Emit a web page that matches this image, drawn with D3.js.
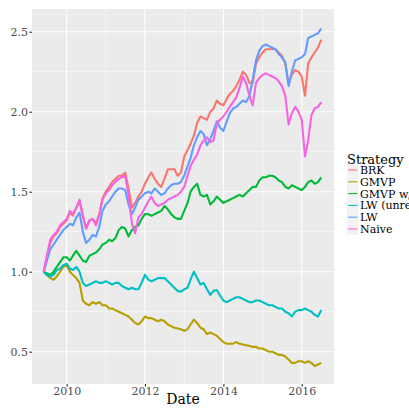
<!DOCTYPE html>
<html>
<head>
<meta charset="utf-8">
<script src="https://cdn.jsdelivr.net/npm/d3@7"></script>
<style>
  html, body { margin: 0; padding: 0; background: #ffffff; }
  svg { display: block; font-family: "DejaVu Serif", serif; }
</style>
</head>
<body>
<svg id="chart" width="409" height="408"></svg>
<script>
'use strict';

// ── Data (monthly readings, Jun 2009 – Jul 2016) ──────────
const startMonth = new Date(2009, 5, 1);
const strategies = ['BRK', 'GMVP', 'GMVP w/o short', 'LW (unrestricted)', 'LW', 'Naive'];
const colors     = ['#F8766D', '#B79F00', '#00BA38', '#00BFC4', '#619CFF', '#F564E3'];

const brk = [1.00,1.09,1.18,1.22,1.24,1.28,1.30,1.32,1.37,1.35,1.40,1.44,1.35,1.27,1.32,1.33,1.30,1.36,1.46,1.50,
  1.53,1.56,1.58,1.60,1.60,1.62,1.52,1.40,1.43,1.47,1.50,1.55,1.59,1.62,1.58,1.55,1.53,1.58,1.64,1.64,
  1.64,1.60,1.62,1.72,1.76,1.80,1.85,1.93,1.97,1.96,1.95,2.00,2.02,2.07,2.05,2.04,2.08,2.11,2.13,2.16,
  2.20,2.25,2.23,2.18,2.18,2.30,2.34,2.37,2.39,2.39,2.39,2.39,2.37,2.35,2.30,2.18,2.23,2.26,2.25,2.22,
  2.10,2.30,2.34,2.37,2.40,2.45];
const gmvp = [1.00,0.98,0.96,0.95,0.97,1.00,1.03,1.04,1.00,0.98,0.96,0.93,0.82,0.80,0.79,0.81,0.80,0.81,0.79,0.79,
  0.77,0.77,0.76,0.75,0.74,0.73,0.72,0.70,0.68,0.67,0.69,0.72,0.71,0.71,0.70,0.69,0.70,0.69,0.67,0.66,
  0.65,0.645,0.64,0.63,0.64,0.67,0.70,0.68,0.65,0.64,0.61,0.62,0.61,0.60,0.58,0.56,0.55,0.55,0.55,0.56,
  0.55,0.545,0.54,0.535,0.53,0.53,0.52,0.52,0.51,0.50,0.50,0.49,0.48,0.48,0.47,0.45,0.43,0.43,0.44,0.44,
  0.43,0.44,0.43,0.41,0.42,0.43];
const gmvpW = [1.00,0.99,0.98,1.00,1.03,1.06,1.09,1.09,1.07,1.10,1.13,1.10,1.07,1.06,1.10,1.11,1.12,1.14,1.17,1.18,
  1.20,1.19,1.21,1.26,1.28,1.27,1.22,1.26,1.28,1.29,1.33,1.36,1.36,1.35,1.36,1.37,1.38,1.41,1.39,1.36,
  1.34,1.33,1.33,1.38,1.43,1.50,1.53,1.55,1.48,1.47,1.48,1.42,1.44,1.47,1.45,1.43,1.44,1.45,1.46,1.47,
  1.48,1.47,1.49,1.51,1.53,1.53,1.57,1.59,1.59,1.60,1.60,1.59,1.57,1.56,1.53,1.52,1.54,1.53,1.52,1.51,
  1.53,1.56,1.57,1.55,1.56,1.59];
const lwUnr = [1.00,0.98,0.97,0.98,1.01,1.02,1.04,1.05,1.02,1.01,1.03,1.00,0.93,0.91,0.92,0.93,0.94,0.93,0.93,0.94,
  0.93,0.92,0.93,0.93,0.91,0.90,0.89,0.90,0.89,0.89,0.93,0.98,0.95,0.94,0.95,0.96,0.96,0.96,0.94,0.92,
  0.90,0.88,0.875,0.89,0.90,0.95,1.00,0.96,0.92,0.93,0.89,0.855,0.88,0.885,0.85,0.82,0.81,0.82,0.83,0.84,
  0.84,0.83,0.82,0.81,0.81,0.82,0.82,0.81,0.80,0.79,0.79,0.78,0.77,0.77,0.75,0.74,0.72,0.75,0.76,0.76,
  0.77,0.76,0.75,0.73,0.72,0.76];
const lw = [1.00,1.07,1.14,1.17,1.20,1.23,1.26,1.28,1.30,1.29,1.34,1.37,1.25,1.18,1.20,1.23,1.22,1.28,1.38,1.42,
  1.44,1.47,1.50,1.52,1.52,1.51,1.42,1.36,1.40,1.45,1.47,1.49,1.50,1.49,1.52,1.50,1.48,1.49,1.52,1.54,
  1.55,1.55,1.56,1.60,1.66,1.71,1.79,1.84,1.88,1.86,1.79,1.83,1.88,1.94,1.90,1.88,1.94,1.99,2.02,2.03,
  2.05,2.07,2.06,2.10,2.20,2.32,2.38,2.41,2.42,2.41,2.40,2.39,2.36,2.34,2.31,2.16,2.25,2.32,2.33,2.34,
  2.36,2.46,2.47,2.48,2.49,2.52];
const naive = [1.00,1.10,1.20,1.23,1.25,1.29,1.31,1.33,1.38,1.36,1.40,1.45,1.35,1.27,1.32,1.33,1.29,1.35,1.45,1.49,
  1.51,1.54,1.56,1.58,1.59,1.60,1.48,1.30,1.24,1.34,1.36,1.40,1.44,1.47,1.43,1.41,1.42,1.43,1.45,1.46,
  1.47,1.48,1.50,1.53,1.60,1.66,1.70,1.73,1.79,1.82,1.84,1.81,1.82,1.93,1.95,1.97,2.00,2.03,2.06,2.09,
  2.15,2.22,2.18,2.10,2.04,2.18,2.21,2.23,2.24,2.23,2.22,2.21,2.19,2.16,2.10,1.92,1.99,2.03,2.00,1.95,
  1.72,1.82,1.98,2.02,2.03,2.06];

const seriesValues = [brk, gmvp, gmvpW, lwUnr, lw, naive];

const yMajor = [0.5, 1.0, 1.5, 2.0, 2.5];
const yMinor = [0.75, 1.25, 1.75, 2.25];
const xMajorYears = [2010, 2012, 2014, 2016];
const xMinorYears = [2011, 2013, 2015];

// ── Layout ────────────────────────────────────────────────
const panel = { left: 32, right: 334, top: 9, bottom: 384 };

const svg = d3.select('#chart');

const x = d3.scaleTime()
  .domain([new Date(2009, 1, 12), new Date(2016, 9, 28)])
  .range([panel.left, panel.right]);
const y = d3.scaleLinear()
  .domain([0.298, 2.642])
  .range([panel.bottom, panel.top]);

const dates = seriesValues[0].map((_, i) => d3.timeMonth.offset(startMonth, i));

// Panel background
svg.append('rect')
  .attr('x', panel.left).attr('y', panel.top)
  .attr('width', panel.right - panel.left)
  .attr('height', panel.bottom - panel.top)
  .attr('fill', '#ebebeb');

const grid = svg.append('g');
yMinor.forEach(v => grid.append('line')
  .attr('x1', panel.left).attr('x2', panel.right)
  .attr('y1', y(v)).attr('y2', y(v))
  .attr('stroke', '#ffffff').attr('stroke-width', 0.55));
xMinorYears.forEach(yr => grid.append('line')
  .attr('y1', panel.top).attr('y2', panel.bottom)
  .attr('x1', x(new Date(yr, 0, 1))).attr('x2', x(new Date(yr, 0, 1)))
  .attr('stroke', '#ffffff').attr('stroke-width', 0.55));
yMajor.forEach(v => grid.append('line')
  .attr('x1', panel.left).attr('x2', panel.right)
  .attr('y1', y(v)).attr('y2', y(v))
  .attr('stroke', '#ffffff').attr('stroke-width', 1.1));
xMajorYears.forEach(yr => grid.append('line')
  .attr('y1', panel.top).attr('y2', panel.bottom)
  .attr('x1', x(new Date(yr, 0, 1))).attr('x2', x(new Date(yr, 0, 1)))
  .attr('stroke', '#ffffff').attr('stroke-width', 1.1));

// ── Lines ─────────────────────────────────────────────────
const lineGen = d3.line()
  .x((d, i) => x(dates[i]))
  .y(d => y(d));

seriesValues.forEach((vals, k) => {
  svg.append('path')
    .datum(vals)
    .attr('d', lineGen)
    .attr('fill', 'none')
    .attr('stroke', colors[k])
    .attr('stroke-width', 2.1)
    .attr('stroke-linejoin', 'round');
});

// ── Axes ──────────────────────────────────────────────────
const yAxis = svg.append('g')
  .attr('transform', `translate(${panel.left},0)`)
  .call(d3.axisLeft(y).tickValues(yMajor).tickSize(2.7).tickPadding(1.2)
    .tickFormat(d3.format('.1f')));
const xAxis = svg.append('g')
  .attr('transform', `translate(0,${panel.bottom})`)
  .call(d3.axisBottom(x).tickValues(xMajorYears.map(yr => new Date(yr, 0, 1)))
    .tickSize(2.7).tickPadding(0.6).tickFormat(d3.timeFormat('%Y')));

[xAxis, yAxis].forEach(a => {
  a.select('.domain').remove();
  a.selectAll('line').attr('stroke', '#333333').attr('stroke-width', 1.07);
  a.selectAll('text')
    .attr('fill', '#4d4d4d')
    .attr('font-family', '"DejaVu Serif", serif')
    .attr('font-size', 11);
});

svg.append('text')
  .attr('x', (panel.left + panel.right) / 2)
  .attr('y', 404)
  .attr('text-anchor', 'middle')
  .attr('font-size', 14)
  .attr('fill', '#000000')
  .text('Date');

// ── Legend ────────────────────────────────────────────────
const legend = svg.append('g').attr('transform', 'translate(347,0)');
legend.append('text')
  .attr('x', 0).attr('y', 164)
  .attr('font-size', 13)
  .attr('fill', '#000000')
  .text('Strategy');

strategies.forEach((s, k) => {
  const cy = 170 + k * 11.8;
  legend.append('rect')
    .attr('x', 0).attr('y', cy - 5.9)
    .attr('width', 11.5).attr('height', 11.8)
    .attr('fill', '#f2f2f2');
  legend.append('line')
    .attr('x1', 1.2).attr('x2', 10.3)
    .attr('y1', cy).attr('y2', cy)
    .attr('stroke', colors[k]).attr('stroke-width', 1.1);
  legend.append('text')
    .attr('x', 13).attr('y', cy + 4)
    .attr('font-size', 11)
    .attr('fill', '#000000')
    .text(s);
});
</script>
</body>
</html>
